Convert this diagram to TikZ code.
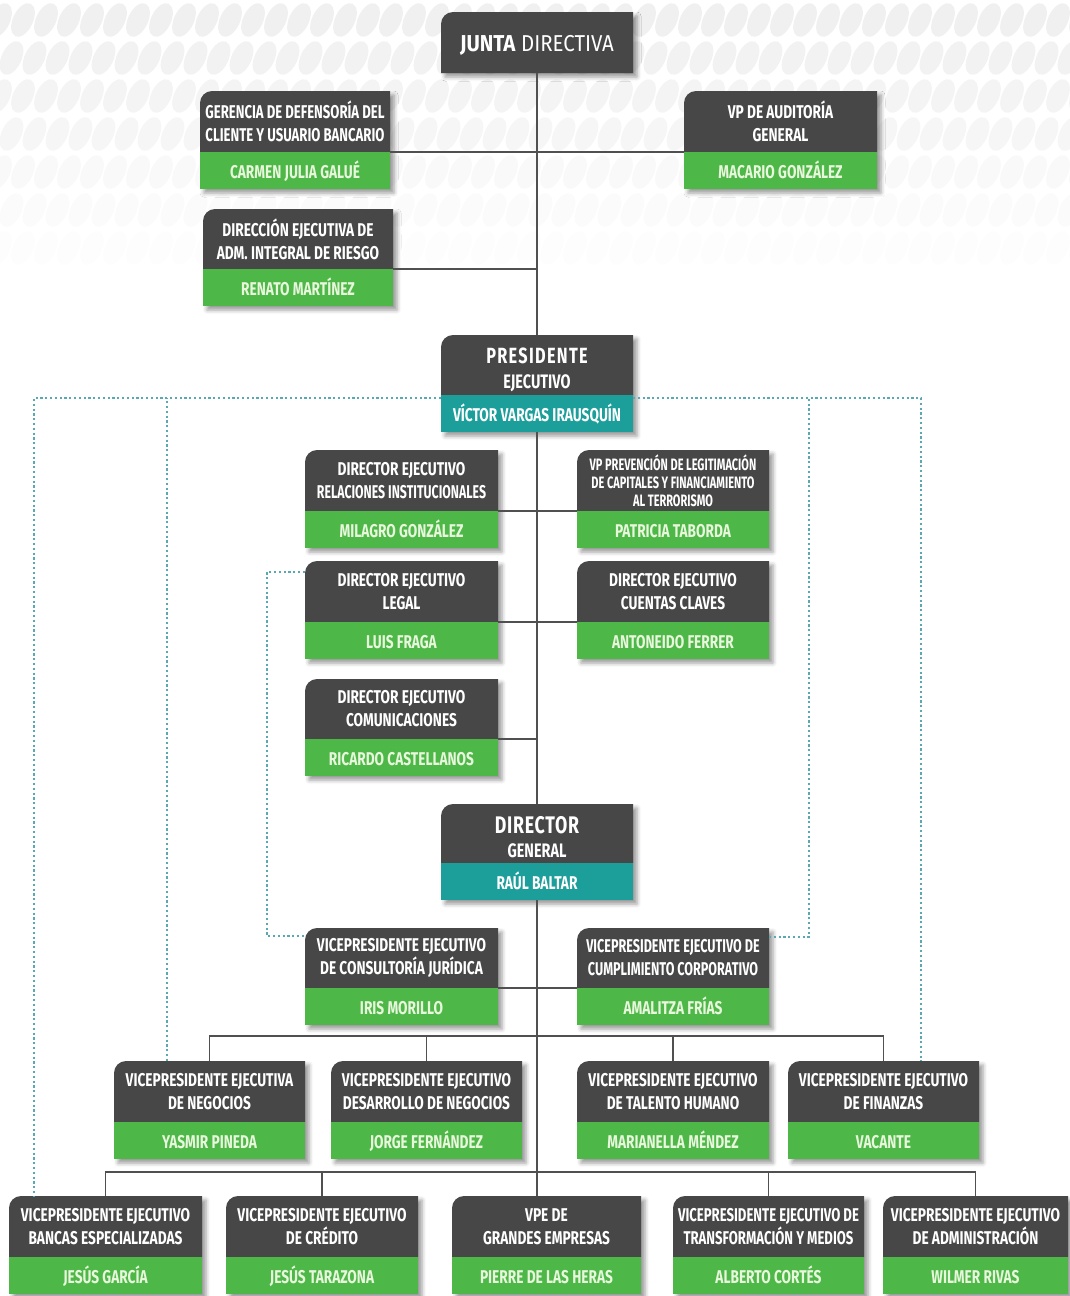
\documentclass[tikz,border=0pt]{standalone}
\usepackage{fontspec}
\setmainfont{Fira Sans}[FakeStretch=0.74]
\usepackage{graphicx}
\usepackage{xcolor}
\usetikzlibrary{positioning, backgrounds, shadows.blur, calc}

\definecolor{dkgray}{HTML}{474747}
\definecolor{grn}{HTML}{4DB848}
\definecolor{tealb}{HTML}{1C9E9B}
\definecolor{dotc}{HTML}{5BA8B3}
\definecolor{linec}{HTML}{505050}
\definecolor{namec}{HTML}{E8F6DC}
\newcommand{\sqz}[2][0.93]{\scalebox{#1}[1]{#2}}

\begin{document}
\begin{tikzpicture}[x=1pt, y=-1pt,
  ttl/.style={anchor=north west, inner sep=0pt, outer sep=0pt,
    minimum width=192pt, minimum height=61pt, align=center,
    text=white, font=\fontsize{18.5}{23}\selectfont\bfseries},
  nme/.style={inner sep=0pt, outer sep=0pt, fill=grn,
    minimum width=192pt, minimum height=37pt, align=center,
    text height=15pt, text depth=0pt,
    text=namec, font=\fontsize{18.5}{23}\selectfont\bfseries},
  lead/.style={nme, fill=tealb, text=white},
  link/.style={draw=linec, line width=1.5pt},
  dotl/.style={draw=dotc, line width=2.2pt, dash pattern=on 2.2pt off 2.6pt},
  node distance=0pt
]
\useasboundingbox (0,0) rectangle (1070,1296);

% board and staff units
\node[ttl, font=\fontsize{23}{26}\selectfont] (jd) at (441,12)
  {\rule{0pt}{22pt}\scalebox{1.2}[1]{\textbf{JUNTA} DIRECTIVA}};
\node[ttl, minimum width=190pt] (gcu) at (200,91)
  {\sqz[0.96]{GERENCIA DE DEFENSORÍA DEL}\\\sqz[0.96]{CLIENTE Y USUARIO BANCARIO}};
\node[nme, minimum width=190pt, below=of gcu] (gcun) {CARMEN JULIA GALUÉ};
\node[ttl, minimum width=190pt, minimum height=60pt] (air) at (203,209)
  {DIRECCIÓN EJECUTIVA DE\\ADM. INTEGRAL DE RIESGO};
\node[nme, minimum width=190pt, below=of air] (airn) {RENATO MARTÍNEZ};
\node[ttl, minimum width=193pt] (vpa) at (684,91) {VP DE AUDITORÍA\\GENERAL};
\node[nme, minimum width=193pt, below=of vpa] (vpan) {MACARIO GONZÁLEZ};

% president and his directors
\node[ttl, minimum height=60pt, font=\fontsize{18.5}{24}\selectfont\bfseries] (pre) at (441,335)
  {\rule{0pt}{25pt}{\fontsize{22}{24}\selectfont\addfontfeature{LetterSpace=6}PRESIDENTE}\\[1pt]{\fontsize{19.5}{20}\selectfont EJECUTIVO}};
\node[lead, below=of pre] (pren) {VÍCTOR VARGAS IRAUSQUÍN};
\node[ttl, minimum width=193pt] (dri) at (305,450)
  {DIRECTOR EJECUTIVO\\\sqz[0.9]{RELACIONES INSTITUCIONALES}};
\node[nme, minimum width=193pt, below=of dri] (drin) {MILAGRO GONZÁLEZ};
\node[ttl, font=\fontsize{16.5}{18}\selectfont\bfseries] (vpl) at (577,450)
  {\sqz[0.9]{VP PREVENCIÓN DE LEGITIMACIÓN}\\\sqz[0.9]{DE CAPITALES Y FINANCIAMIENTO}\\\sqz[0.9]{AL TERRORISMO}};
\node[nme, below=of vpl] (vpln) {PATRICIA TABORDA};
\node[ttl, minimum width=193pt] (dle) at (305,561) {DIRECTOR EJECUTIVO\\LEGAL};
\node[nme, minimum width=193pt, below=of dle] (dlen) {LUIS FRAGA};
\node[ttl] (dcc) at (577,561) {DIRECTOR EJECUTIVO\\CUENTAS CLAVES};
\node[nme, below=of dcc] (dccn) {ANTONEIDO FERRER};
\node[ttl, minimum width=193pt, minimum height=60pt] (dco) at (305,679)
  {DIRECTOR EJECUTIVO\\COMUNICACIONES};
\node[nme, minimum width=193pt, below=of dco] (dcon) {RICARDO CASTELLANOS};

% director general and vice presidents
\node[ttl, minimum height=59pt, font=\fontsize{18.5}{24}\selectfont\bfseries] (dg) at (441,804)
  {\rule{0pt}{24pt}{\fontsize{24}{24}\selectfont\addfontfeature{LetterSpace=3}DIRECTOR}\\{\fontsize{19.5}{20}\selectfont GENERAL}};
\node[lead, below=of dg] (dgn) {RAÚL BALTAR};
\node[ttl, minimum width=193pt, minimum height=60pt] (vcj) at (305,928)
  {VICEPRESIDENTE EJECUTIVO\\DE CONSULTORÍA JURÍDICA};
\node[nme, minimum width=193pt, below=of vcj] (vcjn) {IRIS MORILLO};
\node[ttl, minimum height=60pt] (vcc) at (577,928)
  {\sqz[0.92]{VICEPRESIDENTE EJECUTIVO DE}\\\sqz[0.92]{CUMPLIMIENTO CORPORATIVO}};
\node[nme, below=of vcc] (vccn) {AMALITZA FRÍAS};

\node[ttl, minimum width=191pt] (vne) at (114,1061) {VICEPRESIDENTE EJECUTIVA\\DE NEGOCIOS};
\node[nme, minimum width=191pt, below=of vne] (vnen) {YASMIR PINEDA};
\node[ttl, minimum width=191pt] (vdn) at (331,1061) {VICEPRESIDENTE EJECUTIVO\\DESARROLLO DE NEGOCIOS};
\node[nme, minimum width=191pt, below=of vdn] (vdnn) {JORGE FERNÁNDEZ};
\node[ttl] (vth) at (577,1061) {VICEPRESIDENTE EJECUTIVO\\DE TALENTO HUMANO};
\node[nme, below=of vth] (vthn) {MARIANELLA MÉNDEZ};
\node[ttl, minimum width=191pt] (vfi) at (788,1061) {VICEPRESIDENTE EJECUTIVO\\DE FINANZAS};
\node[nme, minimum width=191pt, below=of vfi] (vfin) {VACANTE};

\node[ttl, minimum width=193pt] (vbe) at (9,1196) {VICEPRESIDENTE EJECUTIVO\\BANCAS ESPECIALIZADAS};
\node[nme, minimum width=193pt, below=of vbe] (vben) {JESÚS GARCÍA};
\node[ttl] (vcr) at (226,1196) {VICEPRESIDENTE EJECUTIVO\\DE CRÉDITO};
\node[nme, below=of vcr] (vcrn) {JESÚS TARAZONA};
\node[ttl, minimum width=189pt] (vge) at (452,1196) {VPE DE\\GRANDES EMPRESAS};
\node[nme, minimum width=189pt, below=of vge] (vgen) {PIERRE DE LAS HERAS};
\node[ttl, minimum width=191pt] (vtm) at (673,1196)
  {\sqz[0.96]{VICEPRESIDENTE EJECUTIVO DE}\\\sqz[0.96]{TRANSFORMACIÓN Y MEDIOS}};
\node[nme, minimum width=191pt, below=of vtm] (vtmn) {ALBERTO CORTÉS};
\node[ttl, minimum width=185pt] (vad) at (883,1196) {VICEPRESIDENTE EJECUTIVO\\DE ADMINISTRACIÓN};
\node[nme, minimum width=185pt, below=of vad] (vadn) {WILMER RIVAS};

% reporting lines
\draw[link] (jd) -- (pre);
\draw[link] (gcu.south east) -- (vpa.south west);
\draw[link] (air.south east) -- (air.south east -| jd.south);
\draw[link] (pren) -- (dg);
\draw[link] (dri.south east) -- (vpl.south west);
\draw[link] (dle.south east) -- (dcc.south west);
\draw[link] (dco.south east) -- (dco.south east -| dg.north);
\draw[link] (vcj.south east) -- (vcc.south west);
\draw[link] (dgn.south) -- (dgn.south |- vge.north);
\coordinate (bus1) at (537,1036);
\draw[link] (vne.north) |- (bus1) -| (vfi.north);
\draw[link] (vdn.north) -- (vdn.north |- bus1);
\draw[link] (vth.north) -- (vth.north |- bus1);
\coordinate (bus2) at (537,1172);
\draw[link] (vbe.north) |- (bus2) -| (vad.north);
\draw[link] (vcr.north) -- (vcr.north |- bus2);
\draw[link] (vtm.north) -- (vtm.north |- bus2);

% dotted functional lines
\coordinate (pl) at ([yshift=-3pt]pren.north west);
\coordinate (pr) at ([yshift=-3pt]pren.north east);
\coordinate (lv) at ([xshift=53pt]vne.north west);
\coordinate (rv) at ([xshift=40pt]vcc.north east);
\draw[dotl] (pl) -| ([xshift=25pt]vbe.north west);
\draw[dotl] (lv) -- (lv |- pl);
\draw[dotl] (pr) -| ([xshift=-58pt]vfi.north east);
\draw[dotl] ([yshift=-9pt]vcc.north east) -| (rv |- pr);
\draw[dotl] ([yshift=-11pt]dle.north west) -- ++(-38pt,0) |- ([yshift=-8pt]vcj.north west);

\begin{scope}[on background layer]
  % faint texture behind the top
  \foreach \j in {0,...,6} {
    \pgfmathsetmacro\op{1-\j/7}
    \pgfmathsetmacro\xo{mod(\j,2)*11.5}
    \foreach \i in {0,...,47}
      \fill[black!6, fill opacity=\op, rotate around={-25:(\i*23+\xo,20+\j*38)}]
        (\i*23+\xo,20+\j*38) ellipse [x radius=10pt, y radius=18pt];
  }
  \path[blur shadow={shadow xshift=4pt, shadow yshift=-4pt, shadow blur radius=4pt, shadow opacity=40}]
    (jd.south west) -- ([yshift=-12pt]jd.north west) arc[start angle=180, end angle=90, radius=12pt]
    -- (jd.north east) -- (jd.south east) -- cycle;
  \fill[dkgray] (jd.south west) -- ([yshift=-12pt]jd.north west) arc[start angle=180, end angle=90, radius=12pt]
    -- (jd.north east) -- (jd.south east) -- cycle;
  \foreach \tn/\nn in {gcu/gcun, air/airn, vpa/vpan, pre/pren, dri/drin, vpl/vpln,
      dle/dlen, dcc/dccn, dco/dcon, dg/dgn, vcj/vcjn, vcc/vccn, vne/vnen, vdn/vdnn,
      vth/vthn, vfi/vfin, vbe/vben, vcr/vcrn, vge/vgen, vtm/vtmn, vad/vadn} {
    \path[blur shadow={shadow xshift=4pt, shadow yshift=-4pt, shadow blur radius=4pt, shadow opacity=40}]
      (\nn.south west) -- ([yshift=-12pt]\tn.north west) arc[start angle=180, end angle=90, radius=12pt]
      -- (\tn.north east) -- (\nn.south east) -- cycle;
    \fill[dkgray] (\tn.south west) -- ([yshift=-12pt]\tn.north west) arc[start angle=180, end angle=90, radius=12pt]
      -- (\tn.north east) -- (\tn.south east) -- cycle;
  }
\end{scope}
\end{tikzpicture}
\end{document}
